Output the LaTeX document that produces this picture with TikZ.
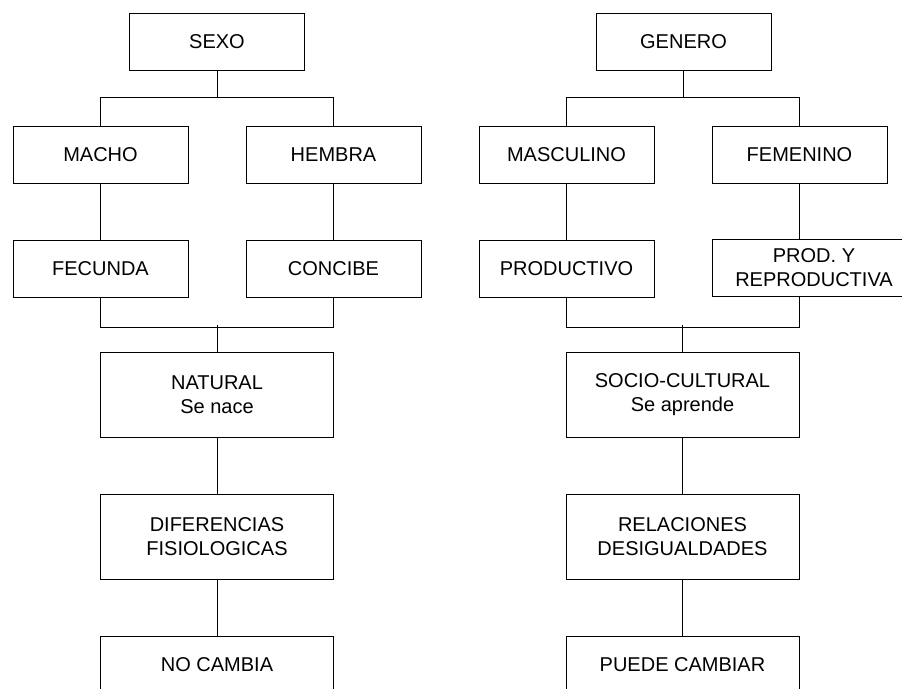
\documentclass[tikz,border=0pt]{standalone}
\usepackage{fontspec}
\setmainfont{Liberation Sans}
\usetikzlibrary{positioning,calc}
\tikzset{caja/.style={rectangle,draw,line width=1pt,minimum width=175pt,minimum height=57pt,inner sep=2pt,align=center,font=\fontsize{20}{24}\selectfont},
	cajaalta/.style={caja,minimum width=233pt,minimum height=85pt},
}
\begin{document}
\begin{tikzpicture}[x=1pt,y=-1pt,node distance = 56pt,line width=1pt]
	\useasboundingbox (0,0) rectangle (902,688);
	% SEXO
	\node[caja] (sexo) at (217,41.5) {SEXO};
	\node[caja] (macho) at (100.5,155) {MACHO};
	\node[caja] (hembra) at (333.5,155) {HEMBRA};
	\node[caja] (fecunda)[below = of macho] {FECUNDA};
	\node[caja] (concibe)[below = of hembra] {CONCIBE};
	\node[cajaalta] (natural) at (217,394.5) {NATURAL\\Se nace};
	\node[cajaalta] (difer)[below = of natural] {DIFERENCIAS\\FISIOLOGICAS};
	\node[caja,minimum width=233pt] (nocambia)[below = of difer] {NO CAMBIA};
	
	% GENERO
	\node[caja] (genero) at (683.5,41.5) {GENERO};
	\node[caja] (masc) at (566.5,155) {MASCULINO};
	\node[caja] (fem) at (799.5,155) {FEMENINO};
	\node[caja] (prod)[below = of masc] {PRODUCTIVO};
	\node[caja,minimum width=204pt] (prodrep) at (814,267.5) {PROD. Y\\REPRODUCTIVA};
	\node[cajaalta] (socio) at (682.5,394.5) {SOCIO-CULTURAL\\Se aprende};
	\node[cajaalta] (relac)[below = of socio] {RELACIONES\\DESIGUALDADES};
	\node[caja,minimum width=233pt] (puede)[below = of relac] {PUEDE CAMBIAR};
	
	\coordinate (femtop) at (fem.south |- prodrep.north);
	\coordinate (fembot) at (fem.south |- prodrep.south);
	
	\draw (sexo.south) -- ++(0,-27pt) -| (macho.north);
	\draw (sexo.south) -- ++(0,-27pt) -| (hembra.north);
	\draw (macho) -- (fecunda);
	\draw (hembra) -- (concibe);
	\draw (fecunda.south) -- ++(0,-29pt) -| (concibe.south);
	\draw (natural.north) -- ++(0,27pt);
	\draw (natural) -- (difer);
	\draw (difer) -- (nocambia);
	
	\draw (genero.south) -- ++(0,-27pt) -| (masc.north);
	\draw (genero.south) -- ++(0,-27pt) -| (fem.north);
	\draw (masc) -- (prod);
	\draw (fem.south) -- (femtop);
	\draw (prod.south) -- ++(0,-29pt) -| (fembot);
	\draw (socio.north) -- ++(0,27pt);
	\draw (socio) -- (relac);
	\draw (relac) -- (puede);
\end{tikzpicture}
\end{document}
